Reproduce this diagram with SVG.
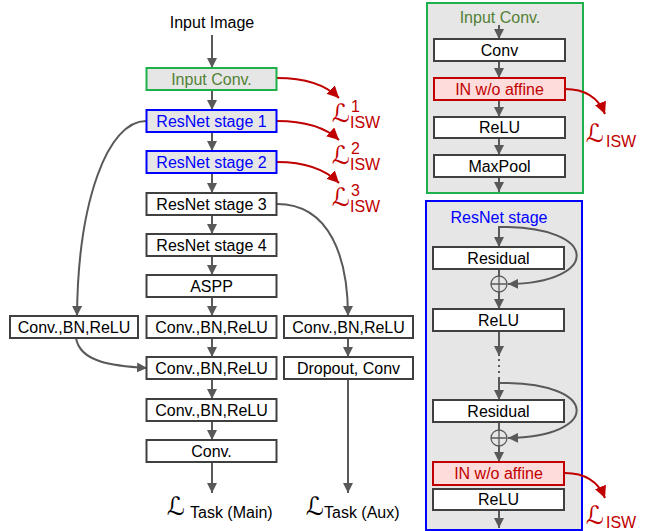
<svg xmlns="http://www.w3.org/2000/svg" width="645" height="531" viewBox="0 0 645 531">
<defs>
<marker id="ag" viewBox="0 0 10 10" refX="10" refY="5" markerWidth="10" markerHeight="10" markerUnits="userSpaceOnUse" orient="auto">
<path d="M0,0 L10,5 L0,10 z" fill="#595959"/>
</marker>
<marker id="ar" viewBox="0 0 10 10" refX="10" refY="5" markerWidth="12" markerHeight="12" markerUnits="userSpaceOnUse" orient="auto">
<path d="M0,0 L10,5 L0,10 z" fill="#c00000"/>
</marker>
<style>
text{font-family:"Liberation Sans",Arial,sans-serif;font-size:16px;text-anchor:middle;fill:#000}
.box{fill:#fff;stroke:#404040;stroke-width:2}
.gbox{fill:#e6e6e6;stroke:#1db04b;stroke-width:2}
.bbox{fill:#e6e6e6;stroke:#0000ff;stroke-width:2}
.rbox{fill:#ffdcdc;stroke:#c00000;stroke-width:2}
.c{fill:none;stroke:#595959;stroke-width:2}
.ca{fill:none;stroke:#595959;stroke-width:2;marker-end:url(#ag)}
.ra{fill:none;stroke:#c00000;stroke-width:2;marker-end:url(#ar)}
.bt{fill:#0000ff}
.gt{fill:#538135}
.rt{fill:#c00000}
.L{font-family:"DejaVu Serif","DejaVu Sans",serif;font-size:25px;text-anchor:start}
.s{text-anchor:start}
.sup{text-anchor:start;font-size:16px}
</style>
</defs>

<g id="panel-input-conv">
<rect class="gbox" x="427" y="3" width="156" height="190"/>
<text class="gt" x="500" y="23">Input Conv.</text>
</g>
<g id="panel-resnet-stage">
<rect class="bbox" x="426" y="201" width="156" height="329"/>
<text class="bt" x="499" y="223">ResNet stage</text>
</g>

<g id="connectors">
<line class="ca" x1="212" y1="35" x2="212" y2="68"/>
<line class="ca" x1="212" y1="90" x2="212" y2="110"/>
<line class="ca" x1="212" y1="132" x2="212" y2="151"/>
<line class="ca" x1="212" y1="173" x2="212" y2="193"/>
<line class="ca" x1="212" y1="215" x2="212" y2="234"/>
<line class="ca" x1="212" y1="256" x2="212" y2="275"/>
<line class="ca" x1="212" y1="297" x2="212" y2="316"/>
<line class="ca" x1="212" y1="338" x2="212" y2="357"/>
<line class="ca" x1="212" y1="379" x2="212" y2="399"/>
<line class="ca" x1="212" y1="421" x2="212" y2="440"/>
<line class="ca" x1="212" y1="462" x2="212" y2="493"/>
<path class="ca" d="M146,121 C108,121 78,200 77,316"/>
<path class="ca" d="M76,338 C80,362 112,366 147,368"/>
<path class="ca" d="M277,204 C330,204 348,258 348,316"/>
<line class="ca" x1="348" y1="338" x2="348" y2="357"/>
<line class="ca" x1="348" y1="379" x2="348" y2="493"/>
<path class="ra" d="M277,78 C305,78 325,84 339,98"/>
<path class="ra" d="M277,121 C305,121 325,127 339,140"/>
<path class="ra" d="M277,162 C305,162 325,169 339,183"/>

<line class="ca" x1="499" y1="25" x2="499" y2="39"/>
<line class="ca" x1="499" y1="61" x2="499" y2="78"/>
<line class="ca" x1="499" y1="100" x2="499" y2="117"/>
<line class="ca" x1="499" y1="138" x2="499" y2="155"/>
<line class="ca" x1="499" y1="177" x2="499" y2="192"/>
<path class="ra" d="M565,89 C585,89 598,97 605,114"/>

<line class="ca" x1="499" y1="226" x2="499" y2="247"/>
<line class="c" x1="499" y1="269" x2="499" y2="276"/>
<line class="ca" x1="499" y1="292" x2="499" y2="309"/>
<path class="ca" d="M499,227 C602,226 600,283 508,284"/>
<line class="ca" x1="499" y1="331" x2="499" y2="356"/>
<line class="c" x1="499" y1="359" x2="499" y2="376" stroke-dasharray="2,4"/>
<line class="ca" x1="499" y1="377" x2="499" y2="400"/>
<path class="ca" d="M499,383 C602,382 600,437 508,438"/>
<line class="c" x1="499" y1="422" x2="499" y2="430"/>
<line class="ca" x1="499" y1="446" x2="499" y2="462"/>
<line class="ca" x1="499" y1="510" x2="499" y2="528"/>
<path class="ra" d="M565,473 C585,473 598,481 605,498"/>
</g>

<g id="input-image"><text x="212" y="28">Input Image</text></g>
<g id="input-conv"><rect class="gbox" x="146.5" y="68" width="130" height="22"/><text class="gt" x="211.5" y="85">Input Conv.</text></g>
<g id="stage1"><rect class="bbox" x="146.5" y="110" width="130" height="22"/><text class="bt" x="211.5" y="127">ResNet stage 1</text></g>
<g id="stage2"><rect class="bbox" x="146.5" y="151" width="130" height="22"/><text class="bt" x="211.5" y="168">ResNet stage 2</text></g>
<g id="stage3"><rect class="box" x="146.5" y="193" width="130" height="22"/><text x="211.5" y="210">ResNet stage 3</text></g>
<g id="stage4"><rect class="box" x="146.5" y="234" width="130" height="22"/><text x="211.5" y="251">ResNet stage 4</text></g>
<g id="aspp"><rect class="box" x="146.5" y="275" width="130" height="22"/><text x="211.5" y="292">ASPP</text></g>
<g id="cbr-mid1"><rect class="box" x="146.5" y="316" width="130" height="22"/><text x="211.5" y="333">Conv.,BN,ReLU</text></g>
<g id="cbr-mid2"><rect class="box" x="146.5" y="357" width="130" height="22"/><text x="211.5" y="374">Conv.,BN,ReLU</text></g>
<g id="cbr-mid3"><rect class="box" x="146.5" y="399" width="130" height="22"/><text x="211.5" y="416">Conv.,BN,ReLU</text></g>
<g id="conv-final"><rect class="box" x="146.5" y="440" width="130" height="22"/><text x="211.5" y="457">Conv.</text></g>
<g id="cbr-left"><rect class="box" x="10" y="316" width="128" height="22"/><text x="74" y="333">Conv.,BN,ReLU</text></g>
<g id="cbr-right"><rect class="box" x="284" y="316" width="129" height="22"/><text x="348.5" y="333">Conv.,BN,ReLU</text></g>
<g id="dropout"><rect class="box" x="284" y="357" width="129" height="22"/><text x="348.5" y="374">Dropout, Conv</text></g>

<g id="loss-main"><text class="L" x="167" y="515">ℒ</text><text class="s" x="190" y="518">Task (Main)</text></g>
<g id="loss-aux"><text class="L" x="306" y="515">ℒ</text><text class="s" x="324" y="518">Task (Aux)</text></g>
<g id="isw1"><text class="L rt" x="332" y="122">ℒ</text><text class="sup rt" x="351" y="112">1</text><text class="s rt" x="350" y="128">ISW</text></g>
<g id="isw2"><text class="L rt" x="332" y="164">ℒ</text><text class="sup rt" x="351" y="154">2</text><text class="s rt" x="350" y="170">ISW</text></g>
<g id="isw3"><text class="L rt" x="332" y="206">ℒ</text><text class="sup rt" x="351" y="196">3</text><text class="s rt" x="350" y="212">ISW</text></g>

<g id="p1-conv"><rect class="box" x="434" y="39" width="131" height="22"/><text x="499.5" y="56">Conv</text></g>
<g id="p1-in"><rect class="rbox" x="434" y="78" width="131" height="22"/><text class="rt" x="499.5" y="95">IN w/o affine</text></g>
<g id="p1-relu"><rect class="box" x="434" y="117" width="131" height="21"/><text x="499.5" y="133">ReLU</text></g>
<g id="p1-maxpool"><rect class="box" x="434" y="155" width="131" height="22"/><text x="499.5" y="172">MaxPool</text></g>
<g id="isw-right1"><text class="L rt" x="586" y="142">ℒ</text><text class="s rt" x="606" y="147">ISW</text></g>

<g id="p2-res1"><rect class="box" x="433" y="247" width="131" height="22"/><text x="498.5" y="264">Residual</text></g>
<g id="p2-add1"><circle cx="499" cy="284" r="8" fill="none" stroke="#595959" stroke-width="1.3"/><path d="M491,284 H507 M499,276 V292" stroke="#595959" stroke-width="1.3"/></g>
<g id="p2-relu1"><rect class="box" x="433" y="309" width="131" height="22"/><text x="498.5" y="326">ReLU</text></g>
<g id="p2-res2"><rect class="box" x="433" y="400" width="131" height="22"/><text x="498.5" y="417">Residual</text></g>
<g id="p2-add2"><circle cx="499" cy="438" r="8" fill="none" stroke="#595959" stroke-width="1.3"/><path d="M491,438 H507 M499,430 V446" stroke="#595959" stroke-width="1.3"/></g>
<g id="p2-in"><rect class="rbox" x="433" y="462" width="131" height="23"/><text class="rt" x="498.5" y="479">IN w/o affine</text></g>
<g id="p2-relu2"><rect class="box" x="433" y="489" width="131" height="21"/><text x="498.5" y="505">ReLU</text></g>
<g id="isw-right2"><text class="L rt" x="586" y="524">ℒ</text><text class="s rt" x="606" y="528">ISW</text></g>
</svg>
